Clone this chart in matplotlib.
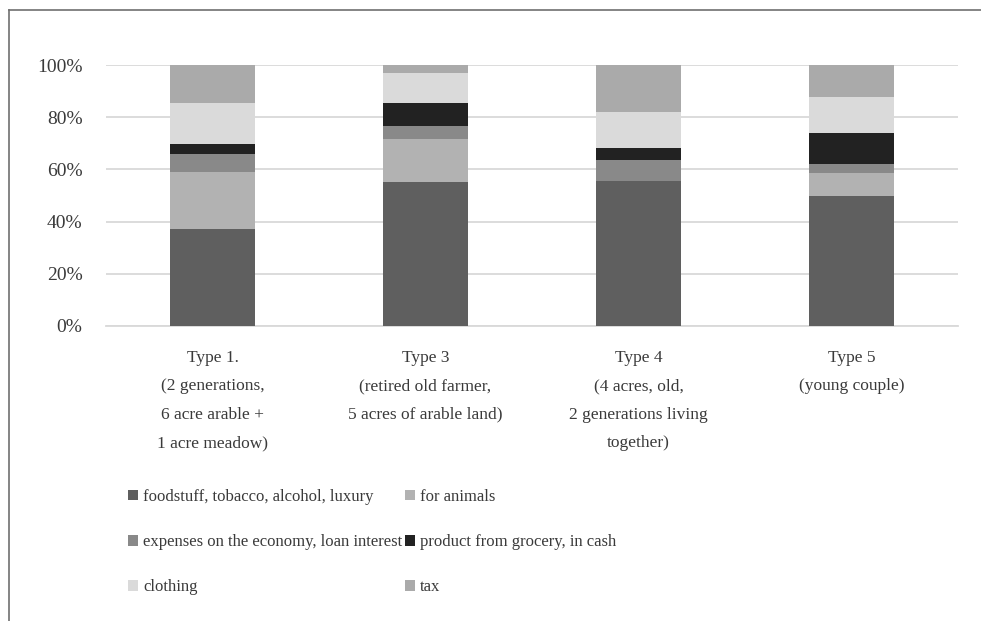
import matplotlib
matplotlib.use("Agg")
import matplotlib.pyplot as plt
from matplotlib.patches import Patch
from matplotlib.lines import Line2D
import numpy as np

plt.rcParams['font.family'] = ['Liberation Serif', 'DejaVu Serif']

categories = ["Type 1.\n(2 generations,\n6 acre arable +\n1 acre meadow)",
              "Type 3\n(retired old farmer,\n5 acres of arable land)",
              "Type 4\n(4 acres, old,\n2 generations living\ntogether)",
              "Type 5\n(young couple)"]
series_names = ["foodstuff, tobacco, alcohol, luxury", "for animals",
                "expenses on the economy, loan interest", "product from grocery, in cash",
                "clothing", "tax"]
foodstuff = [37.0, 55.3, 55.7, 49.9]
animals = [21.9, 16.5, 0.0, 8.6]
expenses = [6.9, 4.7, 8.0, 3.7]
grocery = [3.8, 8.8, 4.4, 11.9]
clothing = [16.0, 11.5, 13.8, 13.6]
tax = [14.4, 3.2, 18.1, 12.3]
yticks = [0, 20, 40, 60, 80, 100]
ytick_labels = ["0%", "20%", "40%", "60%", "80%", "100%"]

colors = ["#5f5f5f", "#b2b2b2", "#898989", "#222222", "#dadada", "#aaaaaa"]
text_color = "#3a3a3a"

fig = plt.figure(figsize=(9.81, 6.21), dpi=100)
ax = fig.add_axes([106/981, 1-326/621, (958-106)/981, (326-65)/621])

data = [foodstuff, animals, expenses, grocery, clothing, tax]
x = np.arange(len(categories))
bottom = np.zeros(len(categories))
handles = []
for vals, c, name in zip(data, colors, series_names):
    ax.bar(x, vals, bottom=bottom, width=0.4, color=c, label=name, zorder=3)
    bottom += np.array(vals)
    handles.append(Patch(facecolor=c, label=name))

ax.set_xlim(-0.5, 3.5)
ax.set_ylim(0, 100)
ax.set_yticks(yticks)
ax.set_yticklabels(ytick_labels, fontsize=14, color=text_color)
ax.set_xticks(x)
ax.set_xticklabels(categories, fontsize=12.5, color=text_color, linespacing=2.05)
ax.tick_params(axis='both', length=0)
ax.tick_params(axis='x', pad=17)
ax.tick_params(axis='y', pad=17)
ax.yaxis.grid(True, color="#d9d9d9", linewidth=1.3, zorder=0)
for s in ["top", "right", "left"]:
    ax.spines[s].set_visible(False)
ax.spines["bottom"].set_color("#d9d9d9")
ax.spines["bottom"].set_linewidth(1.3)

leg_kw = dict(frameon=False, fontsize=12, handlelength=0.6, handleheight=0.6,
              handletextpad=0.3, labelspacing=1.75, labelcolor=text_color,
              borderpad=0, borderaxespad=0)
leg1 = fig.legend(handles=[handles[0], handles[2], handles[4]], loc="upper left",
                  bbox_to_anchor=(128/981, 1-489/621), **leg_kw)
leg2 = fig.legend(handles=[handles[1], handles[3], handles[5]], loc="upper left",
                  bbox_to_anchor=(405/981, 1-489/621), **leg_kw)

fig.add_artist(Line2D([9/981, 1], [1-10/621, 1-10/621], color="#6f6f6f", linewidth=1.2))
fig.add_artist(Line2D([9/981, 9/981], [1-10/621, 0], color="#6f6f6f", linewidth=1.2))

fig.savefig("out.png", dpi=100)
